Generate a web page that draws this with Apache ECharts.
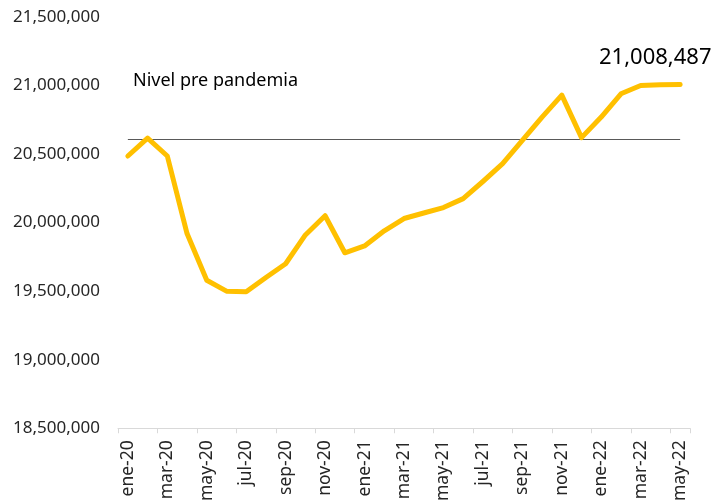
<!DOCTYPE html>
<html>
<head>
<meta charset="utf-8">
<script src="https://cdn.jsdelivr.net/npm/echarts@6/dist/echarts.min.js"></script>
<style>
	html, body { margin: 0; padding: 0; background: #fff; }
	#chart { width: 728px; height: 504px; }
</style>
</head>
<body>
<div id="chart"></div>
<script>
var meses = ['ene-20','feb-20','mar-20','abr-20','may-20','jun-20','jul-20','ago-20','sep-20','oct-20','nov-20','dic-20',
	'ene-21','feb-21','mar-21','abr-21','may-21','jun-21','jul-21','ago-21','sep-21','oct-21','nov-21','dic-21',
	'ene-22','feb-22','mar-22','abr-22','may-22'];
var empleo = [20486000, 20616000, 20486000, 19920000, 19580000, 19500000, 19495000, 19600000, 19700000, 19910000, 20050000, 19780000,
	19830000, 19940000, 20030000, 20070000, 20110000, 20175000, 20300000, 20430000, 20600000, 20770000, 20930000, 20620000,
	20770000, 20940000, 21000000, 21005000, 21008487];
var nivelPrePandemia = 20611000;
var ultimoValor = '21,008,487';

function fmt(v) {
	return String(v).replace(/\B(?=(\d{3})+(?!\d))/g, ',');
}

var chart = echarts.init(document.getElementById('chart'));
var option = {
	animation : false,
	textStyle : { fontFamily : 'Noto Sans' },
	grid : {
		left : 118,
		right : 38,
		top : 17,
		bottom : 72,
		containLabel : false
	},
	xAxis : {
		type : 'category',
		data : meses,
		boundaryGap : true,
		axisLine : {
			show : true,
			lineStyle : { color : '#d9d9d9', width : 1 }
		},
		axisTick : {
			show : true,
			interval : 1,
			length : 5,
			lineStyle : { color : '#d9d9d9' }
		},
		axisLabel : {
			show : true,
			interval : 1,
			rotate : 90,
			margin : 12,
			color : '#262626',
			fontSize : 17.5
		},
		splitLine : { show : false }
	},
	yAxis : {
		type : 'value',
		min : 18500000,
		max : 21500000,
		interval : 500000,
		axisLine : { show : false },
		axisTick : { show : false },
		axisLabel : {
			show : true,
			margin : 18,
			color : '#262626',
			fontSize : 17,
			formatter : fmt
		},
		splitLine : { show : false }
	},
	graphic : {
		elements : [{
			type : 'text',
			left : 133,
			top : 72,
			style : {
				text : 'Nivel pre pandemia',
				font : '18px "Noto Sans", sans-serif',
				fill : '#000'
			}
		}, {
			type : 'text',
			left : 599,
			top : 47,
			style : {
				text : ultimoValor,
				font : '22px "Noto Sans", sans-serif',
				fill : '#000'
			}
		}]
	},
	series : [{
		name : 'Empleo',
		type : 'line',
		data : empleo,
		symbol : 'none',
		z : 3,
		lineStyle : {
			color : '#FFC000',
			width : 5,
			cap : 'round',
			join : 'round'
		},
		markLine : {
			silent : true,
			symbol : 'none',
			z : 2,
			label : { show : false },
			lineStyle : { color : '#595959', width : 1.2, type : 'solid' },
			data : [[
				{ coord : [0, nivelPrePandemia] },
				{ coord : [meses.length - 1, nivelPrePandemia] }
			]]
		}
	}]
};
chart.setOption(option);
</script>
</body>
</html>
